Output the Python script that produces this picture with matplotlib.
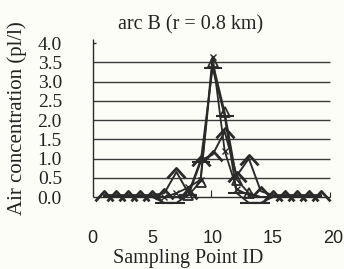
import matplotlib.pyplot as plt
from matplotlib.path import Path

# 采样点编号 1..19
point_id = list(range(1, 20))

conc_a = [0.05, 0.05, 0.05, 0.05, 0.05, 0.1, 0.65, 0.1, 0.95, 1.1, 1.7, 0.55, 1.0, 0.15, 0.05, 0.05, 0.05, 0.05, 0.05]
conc_b = [0.0, 0.0, 0.0, 0.0, 0.0, 0.0, 0.0, 0.05, 0.4, 3.5, 2.2, 0.45, 0.1, 0.0, 0.0, 0.0, 0.0, 0.0, 0.0]
conc_c = [0.0, 0.0, 0.0, 0.0, 0.0, -0.15, -0.15, 0.05, 0.9, 3.35, 2.1, 0.1, -0.15, -0.15, 0.0, 0.0, 0.0, 0.0, 0.0]
conc_d = [0.0, 0.0, 0.0, 0.0, 0.0, 0.0, 0.1, 0.25, 0.45, 3.65, 1.2, 0.2, 0.05, 0.0, 0.0, 0.0, 0.0, 0.0, 0.0]

y_ticks = [0.0, 0.5, 1.0, 1.5, 2.0, 2.5, 3.0, 3.5, 4.0]
x_ticks = [0, 5, 10, 15, 20]

serif = 'Liberation Serif'
sans = 'Liberation Sans'
ink = '#2a2a2a'

fig = plt.figure(figsize=(3.44, 2.69), dpi=100)
fig.patch.set_facecolor('#fdfdf8')
ax = fig.add_axes([0.2324, 0.2104, 0.7643, 0.6654])
ax.set_facecolor('none')
ax.set_xlim(-1, 20.8)
ax.set_ylim(-0.4, 4.25)
for s in ax.spines.values():
    s.set_visible(False)

# 网格线和坐标轴线
x0, x1 = 0.08, 19.73
ax.hlines(y_ticks[1:-1], x0, x1, color='#3a3a3a', lw=1.0)
ax.hlines(0, x0, x1, color=ink, lw=1.0)
ax.vlines(x0, 0, 4.1, color=ink, lw=1.0)
ax.hlines(4.0, x0, 0.35, color=ink, lw=1.0)
ax.vlines(9.87, 0, 0.17, color=ink, lw=0.8)
ax.vlines(x1, 0, 0.12, color=ink, lw=0.8)

# 折线
chevron = Path([(-1, -0.65), (0, 0.45), (1, -0.65)], [Path.MOVETO, Path.LINETO, Path.LINETO])
ax.plot(point_id, conc_d, color=ink, lw=1.3, marker='x', ms=4, mew=1.0, markevery=slice(5, 13))
ax.plot(point_id, conc_c, color=ink, lw=1.3, marker='_', ms=13, mew=1.5, markevery=slice(4, 14))
ax.plot(point_id, conc_b, color=ink, lw=1.3, marker='^', ms=7, mfc='none', mew=1.3, markevery=slice(7, 13))
ax.plot(point_id, conc_a, color=ink, lw=1.4, marker=chevron, ms=13, mfc='none', mew=2.0)

ax.set_yticks(y_ticks)
ax.set_yticklabels([f'{v:.1f}' for v in y_ticks], fontfamily=serif, fontsize=14)
ax.set_xticks(x_ticks)
ax.set_xticklabels([str(v) for v in x_ticks], fontfamily=sans, fontsize=13)
ax.tick_params(axis='y', length=0, pad=13, colors='#222222')
ax.tick_params(axis='x', length=0, pad=13, colors='#222222')

fig.text(191 / 344, 1 - 25 / 269, 'arc B (r = 0.8 km)', fontfamily=serif, fontsize=14.5,
         ha='center', va='center', color='#222222')
fig.text(17 / 344, 1 - 118 / 269, 'Air concentration (pl/l)', fontfamily=serif, fontsize=15,
         ha='center', va='center', rotation=90, color='#222222')
fig.text(188 / 344, 1 - 259 / 269, 'Sampling Point ID', fontfamily=serif, fontsize=14.5,
         ha='center', va='center', color='#222222')

fig.savefig('out.png', dpi=100, facecolor=fig.get_facecolor())
